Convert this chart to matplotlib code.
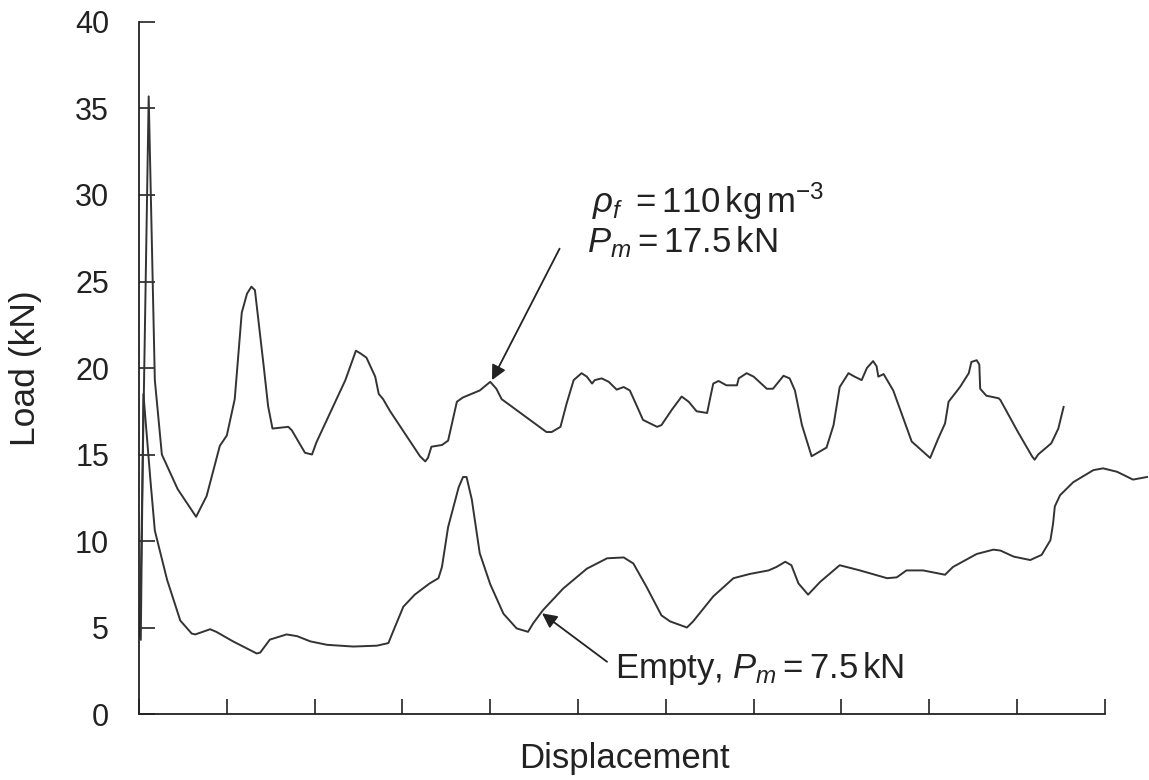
import numpy as np
import matplotlib
matplotlib.use('Agg')
import matplotlib.pyplot as plt

plt.rcParams['font.family'] = ['Liberation Sans', 'DejaVu Sans']
plt.rcParams['mathtext.fontset'] = 'custom'
plt.rcParams['mathtext.rm'] = 'Liberation Sans'
plt.rcParams['mathtext.it'] = 'Liberation Sans:italic'

# foam-filled tube (rho_f = 110 kg/m3), displacement in tick units
foam_x = [0.01, 0.11, 0.18, 0.26, 0.44, 0.65, 0.77, 0.92, 1.00, 1.09, 1.17, 1.23, 1.28, 1.32,
          1.42, 1.47, 1.52, 1.70, 1.74, 1.89, 1.97, 2.02, 2.35, 2.47, 2.52, 2.59, 2.69, 2.73,
          2.78, 2.86, 3.20, 3.26, 3.29, 3.33, 3.45, 3.52, 3.62, 3.69, 3.88, 4.00, 4.07, 4.13,
          4.64, 4.70, 4.80, 4.87, 4.95, 5.04, 5.10, 5.16, 5.19, 5.27, 5.35, 5.44, 5.52, 5.59,
          5.67, 5.74, 5.90, 5.95, 6.07, 6.18, 6.26, 6.35, 6.47, 6.50, 6.54, 6.60, 6.69, 6.81,
          6.83, 6.92, 7.00, 7.15, 7.22, 7.34, 7.41, 7.47, 7.55, 7.66, 7.83, 7.91, 7.98, 8.08,
          8.15, 8.23, 8.29, 8.36, 8.40, 8.42, 8.48, 8.59, 8.80, 9.01, 9.10, 9.18, 9.22, 9.35,
          9.45, 9.48, 9.54, 9.57, 9.58, 9.65, 9.79, 9.81, 10.01, 10.17, 10.20, 10.24, 10.39,
          10.47, 10.53]
foam_load = [4.5, 35.7, 19.3, 15.0, 13.0, 11.4, 12.6, 15.5, 16.1, 18.2, 23.2, 24.3, 24.7, 24.5,
             20.1, 17.8, 16.5, 16.6, 16.4, 15.1, 15.0, 15.7, 19.3, 21.0, 20.85, 20.6, 19.5, 18.5,
             18.2, 17.5, 14.9, 14.6, 14.8, 15.45, 15.55, 15.8, 18.05, 18.3, 18.7, 19.2, 18.8, 18.2,
             16.3, 16.3, 16.6, 17.95, 19.3, 19.7, 19.5, 19.1, 19.3, 19.4, 19.2, 18.75, 18.9, 18.7,
             17.8, 17.0, 16.6, 16.7, 17.6, 18.35, 18.05, 17.5, 17.4, 18.15, 19.1, 19.25, 19.0, 19.0,
             19.4, 19.7, 19.5, 18.8, 18.8, 19.55, 19.4, 18.7, 16.7, 14.9, 15.4, 16.7, 18.9, 19.7,
             19.5, 19.3, 20.0, 20.4, 20.1, 19.5, 19.65, 18.7, 15.75, 14.8, 15.9, 16.8, 18.05, 18.9,
             19.7, 20.35, 20.45, 20.2, 18.8, 18.4, 18.25, 18.15, 16.3, 14.9, 14.7, 15.0, 15.65,
             16.5, 17.75]

# empty tube
empty_x = [0.02, 0.05, 0.13, 0.18, 0.32, 0.47, 0.60, 0.64, 0.81, 0.88, 1.07, 1.34, 1.38, 1.49,
           1.68, 1.80, 1.95, 2.14, 2.44, 2.71, 2.84, 2.90, 3.01, 3.14, 3.31, 3.41, 3.45, 3.52,
           3.64, 3.69, 3.73, 3.79, 3.88, 4.00, 4.15, 4.30, 4.43, 4.49, 4.60, 4.83, 5.10, 5.33,
           5.52, 5.63, 5.78, 5.95, 6.05, 6.24, 6.31, 6.54, 6.77, 6.96, 7.17, 7.26, 7.36, 7.43,
           7.51, 7.62, 7.76, 7.98, 8.21, 8.52, 8.63, 8.74, 8.93, 9.18, 9.27, 9.54, 9.73, 9.81,
           9.96, 10.15, 10.28, 10.38, 10.41, 10.43, 10.49, 10.64, 10.87, 10.98, 11.14, 11.32, 11.48]
empty_load = [4.3, 18.5, 13.5, 10.6, 7.75, 5.4, 4.65, 4.6, 4.9, 4.75, 4.2, 3.5, 3.55, 4.3,
              4.6, 4.5, 4.2, 4.0, 3.9, 3.95, 4.1, 4.85, 6.2, 6.9, 7.55, 7.85, 8.5, 10.8,
              13.1, 13.7, 13.7, 12.4, 9.3, 7.5, 5.8, 4.95, 4.75, 5.25, 6.0, 7.25, 8.4, 9.0,
              9.05, 8.7, 7.35, 5.7, 5.35, 5.0, 5.35, 6.8, 7.85, 8.1, 8.3, 8.5, 8.8, 8.6,
              7.55, 6.9, 7.65, 8.6, 8.3, 7.85, 7.9, 8.3, 8.3, 8.05, 8.5, 9.25, 9.5, 9.45,
              9.1, 8.9, 9.2, 10.05, 11.0, 12.0, 12.65, 13.4, 14.1, 14.2, 14.0, 13.55, 13.7]

yticks = np.arange(0, 45, 5)
xticks = np.arange(0, 12, 1)

fig = plt.figure(figsize=(11.49, 7.80), dpi=100)
ax = fig.add_axes([0.121, 0.0846, 0.8788, 0.8872])

line_col = '#333333'
ax.plot(foam_x, foam_load, color=line_col, lw=1.4, solid_joinstyle='round')
ax.plot(empty_x, empty_load, color=line_col, lw=1.4, solid_joinstyle='round')

ax.set_xlim(0, 11.5)
ax.set_ylim(0, 40)
ax.spines['top'].set_visible(False)
ax.spines['right'].set_visible(False)
ax.spines['left'].set_bounds(0, 40)
ax.spines['bottom'].set_bounds(0, 11)
for s in ['left', 'bottom']:
    ax.spines[s].set_linewidth(1.3)
    ax.spines[s].set_color('#222222')

ax.set_yticks(yticks)
ax.set_xticks(xticks)
ax.set_xticklabels([])
ax.tick_params(axis='y', direction='in', length=11.5, width=1.2, pad=21.5,
               labelsize=22, colors='#222222')
ax.tick_params(axis='x', direction='in', length=10.5, width=1.2, colors='#222222')

ax.set_xlabel('Displacement', fontsize=25, color='#222222')
ax.xaxis.set_label_coords(0.481, -0.064)
ax.xaxis.label.set_verticalalignment('center')
ax.set_ylabel('Load (kN)', fontsize=25.5, color='#222222')
ax.yaxis.set_label_coords(-0.112, 0.5)
ax.yaxis.label.set_verticalalignment('center')

# annotations
ax.text(5.16, 28.96, r'$\rho_f\ = 110\,\mathrm{kg\,m^{-3}}$', fontsize=25,
        ha='left', va='baseline', color='#222222')
ax.text(5.10, 26.7, r'$P_m = 17.5\,\mathrm{kN}$', fontsize=25,
        ha='left', va='baseline', color='#222222')
ax.annotate('', xy=(4.02, 19.3), xytext=(4.79, 26.9),
            arrowprops=dict(arrowstyle='-|>', color='#222222', lw=1.3,
                            mutation_scale=22, shrinkA=0, shrinkB=0))

ax.text(5.42, 2.08, r'Empty, $P_m = 7.5\,\mathrm{kN}$', fontsize=25,
        ha='left', va='baseline', color='#222222')
ax.annotate('', xy=(4.59, 5.82), xytext=(5.33, 3.02),
            arrowprops=dict(arrowstyle='-|>', color='#222222', lw=1.3,
                            mutation_scale=22, shrinkA=0, shrinkB=0))

fig.savefig('out.png', dpi=100)
